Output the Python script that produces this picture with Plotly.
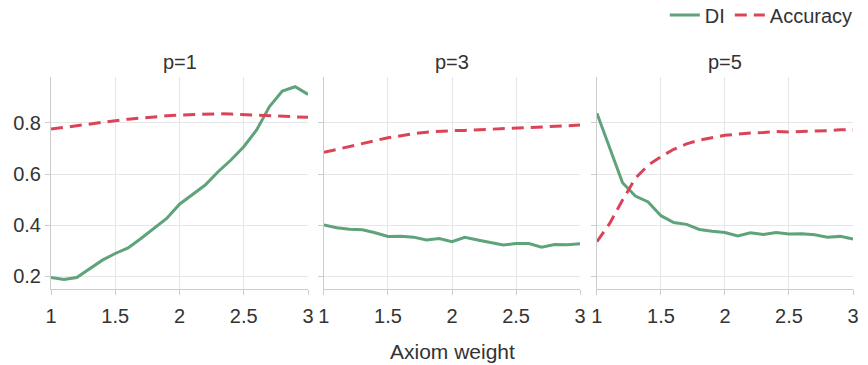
import plotly.graph_objects as go

x_vals = [1.0, 1.1, 1.2, 1.3, 1.4, 1.5, 1.6, 1.7, 1.8, 1.9, 2.0,
          2.1, 2.2, 2.3, 2.4, 2.5, 2.6, 2.7, 2.8, 2.9, 3.0]

panel_titles = ["p=1", "p=3", "p=5"]

di_p1 = [0.195, 0.187, 0.195, 0.230, 0.263, 0.289, 0.311, 0.348, 0.387, 0.426, 0.482,
         0.518, 0.557, 0.609, 0.655, 0.707, 0.773, 0.864, 0.925, 0.942, 0.912]
acc_p1 = [0.776, 0.783, 0.790, 0.797, 0.803, 0.809, 0.815, 0.820, 0.824, 0.828, 0.831,
          0.833, 0.835, 0.836, 0.835, 0.833, 0.831, 0.828, 0.826, 0.824, 0.822]

di_p3 = [0.401, 0.390, 0.384, 0.382, 0.370, 0.356, 0.357, 0.353, 0.342, 0.348, 0.335,
         0.352, 0.342, 0.332, 0.322, 0.328, 0.328, 0.314, 0.324, 0.323, 0.327]
acc_p3 = [0.685, 0.697, 0.709, 0.720, 0.731, 0.742, 0.751, 0.758, 0.764, 0.768, 0.770,
          0.771, 0.773, 0.775, 0.777, 0.780, 0.782, 0.784, 0.786, 0.789, 0.792]

di_p5 = [0.838, 0.700, 0.566, 0.514, 0.491, 0.437, 0.410, 0.403, 0.383, 0.376, 0.371,
         0.358, 0.370, 0.363, 0.371, 0.365, 0.366, 0.362, 0.353, 0.356, 0.346]
acc_p5 = [0.335, 0.407, 0.498, 0.583, 0.635, 0.668, 0.697, 0.718, 0.733, 0.744, 0.752,
          0.756, 0.761, 0.763, 0.767, 0.765, 0.766, 0.769, 0.770, 0.773, 0.773]

di_series = [di_p1, di_p3, di_p5]
acc_series = [acc_p1, acc_p3, acc_p5]

y_ticks = [0.2, 0.4, 0.6, 0.8]
y_tick_text = ["0.2", "0.4", "0.6", "0.8"]
x_ticks = [1, 1.5, 2, 2.5, 3]
x_tick_text = ["1", "1.5", "2", "2.5", "3"]

GREEN = "rgb(95,163,122)"
RED = "rgb(219,68,88)"
FONT = "Liberation Sans, Arial, sans-serif"
TEXT = "#333333"
FS = 20

domains = [[0.0, 0.3205], [0.3403, 0.6597], [0.6807, 1.0]]

fig = go.Figure()
for i in range(3):
    xa = "x" if i == 0 else f"x{i+1}"
    ya = "y" if i == 0 else f"y{i+1}"
    fig.add_trace(go.Scatter(x=x_vals, y=di_series[i], mode="lines", name="DI",
                             line=dict(color=GREEN, width=3), xaxis=xa, yaxis=ya,
                             showlegend=(i == 0), legendgroup="DI"))
    fig.add_trace(go.Scatter(x=x_vals, y=acc_series[i], mode="lines", name="Accuracy",
                             line=dict(color=RED, width=3, dash="12px,7px"), xaxis=xa, yaxis=ya,
                             showlegend=(i == 0), legendgroup="Acc"))

layout = dict(
    width=868, height=365,
    margin=dict(l=51, r=9, t=77, b=76),
    paper_bgcolor="white", plot_bgcolor="white",
    font=dict(family=FONT, size=FS, color=TEXT),
    legend=dict(orientation="h", x=1.006, xanchor="right", y=0.959, yanchor="middle",
                yref="container",
                font=dict(size=FS, color=TEXT),
                traceorder="normal", itemwidth=30, bgcolor="rgba(0,0,0,0)",
                tracegroupgap=0),
    annotations=[],
)
for i in range(3):
    xk = "xaxis" if i == 0 else f"xaxis{i+1}"
    yk = "yaxis" if i == 0 else f"yaxis{i+1}"
    anchor_y = "y" if i == 0 else f"y{i+1}"
    anchor_x = "x" if i == 0 else f"x{i+1}"
    layout[xk] = dict(domain=domains[i], anchor=anchor_y, range=[1, 3],
                      tickvals=x_ticks, ticktext=x_tick_text,
                      showgrid=True, gridcolor="#e6e6e6", gridwidth=1,
                      showline=True, linecolor="#cccccc", linewidth=1,
                      ticks="outside", ticklen=5, tickcolor="#cccccc",
                      ticklabelstandoff=4,
                      zeroline=False, tickfont=dict(size=FS, color=TEXT))
    layout[yk] = dict(domain=[0, 1], anchor=anchor_x, range=[0.15, 0.98],
                      tickvals=y_ticks, ticktext=y_tick_text,
                      showticklabels=(i == 0),
                      showgrid=True, gridcolor="#e6e6e6", gridwidth=1,
                      showline=True, linecolor="#cccccc", linewidth=1,
                      ticks="outside", ticklen=5, tickcolor="#cccccc",
                      zeroline=False, tickfont=dict(size=FS, color=TEXT))
    layout["annotations"].append(dict(
        text=panel_titles[i], xref="paper", yref="paper",
        x=(domains[i][0] + domains[i][1]) / 2, y=1.0, yshift=2,
        xanchor="center", yanchor="bottom", showarrow=False,
        font=dict(size=FS, color=TEXT)))

layout["annotations"].append(dict(
    text="Axiom weight", xref="paper", yref="paper", x=0.5, y=0, yshift=-49,
    xanchor="center", yanchor="top", showarrow=False, font=dict(size=21, color=TEXT)))

fig.update_layout(**layout)
fig.write_html("out.html")
